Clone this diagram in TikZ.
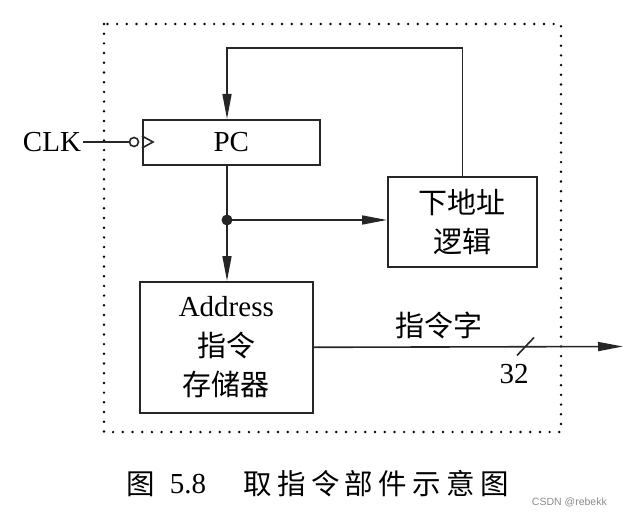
\documentclass[tikz,border=0pt]{standalone}
\usepackage{fontspec}
\setmainfont{Liberation Serif}
\newfontfamily\cjk{Noto Sans CJK SC}
\newfontfamily\wmfont{Liberation Sans}
\usetikzlibrary{arrows.meta,calc}
\newcommand\capch[1]{\makebox[33.8pt]{#1}}
\begin{document}
\begin{tikzpicture}[x=1pt,y=-1pt,
  box/.style={draw=black!85, line width=1.6pt, inner sep=0pt, anchor=north west, align=center,
    font=\fontsize{29}{39.5}\selectfont},
  wire/.style={draw=black!85, line width=1.6pt},
  arr/.style={wire, -{Triangle[length=25pt,width=9pt]}},
  lbl/.style={inner sep=2pt, font=\fontsize{29}{36}\selectfont},
  dotbox/.style={draw=black, line width=2.7pt, line cap=round, dash pattern=on 0pt off 9.7pt}]
\useasboundingbox (0,0) rectangle (640,516);
\fill[white] (0,0) rectangle (640,516);
% dotted frame
\draw[dotbox] (104,24) rectangle (561,432);
% blocks
\node[box, minimum width=177pt, minimum height=45pt] (pc) at (142,119) {PC};
\node[box, minimum width=149pt, minimum height=90pt] (nl) at (387,176) {\cjk 下地址\\\cjk 逻辑};
\node[box, minimum width=173pt, minimum height=131pt] (mem) at (139,281) {Address\\\cjk 指令\\\cjk 存储器};
% CLK input
\node[lbl] (clk) at (52,142) {CLK};
\coordinate (bub) at (134,142);
\draw[wire] (clk.east) -- ($(bub)+(-4.5,0)$);
\draw[wire] (bub) circle (4.5pt);
\draw[wire, line join=miter] (142,136) -- (153,142) -- (142,148);
% feedback from next-address logic to PC
\coordinate (fb) at (227,48);
\draw[arr] (nl.north) |- (fb) -- (fb |- pc.north);
% PC output
\coordinate (j) at (227,220);
\draw[wire] (j |- pc.south) -- (j);
\draw[arr] (j) -- (j |- mem.north);
\draw[arr] (j) -- (j -| nl.west);
\fill[black!85] (j) circle (5.5pt);
% instruction word output
\coordinate (out) at (623,346.5);
\draw[arr] (mem.east) -- (out);
\draw[wire] (517,355.5) -- (534,337.5);
\node[lbl] (iw) at (439,325) {\cjk 指令字};
\node[lbl] (w32) at (514,374) {32};
% caption
\node[inner sep=0pt, font=\fontsize{28.5}{30}\selectfont] (cap1) at (140.5,484) {\cjk 图};
\node[inner sep=0pt, font=\fontsize{29}{30}\selectfont] (cap2) at (188,484) {5.8};
\node[inner sep=0pt, anchor=west, font=\fontsize{28.5}{30}\selectfont\cjk] (cap3) at (240.6,484)
  {\capch{取}\capch{指}\capch{令}\capch{部}\capch{件}\capch{示}\capch{意}\capch{图}};
% watermark
\node[inner sep=0pt, anchor=east, text=black!45, font=\fontsize{10.5}{12}\selectfont\wmfont] (wm) at (607,502) {CSDN @rebekk};
\end{tikzpicture}
\end{document}
